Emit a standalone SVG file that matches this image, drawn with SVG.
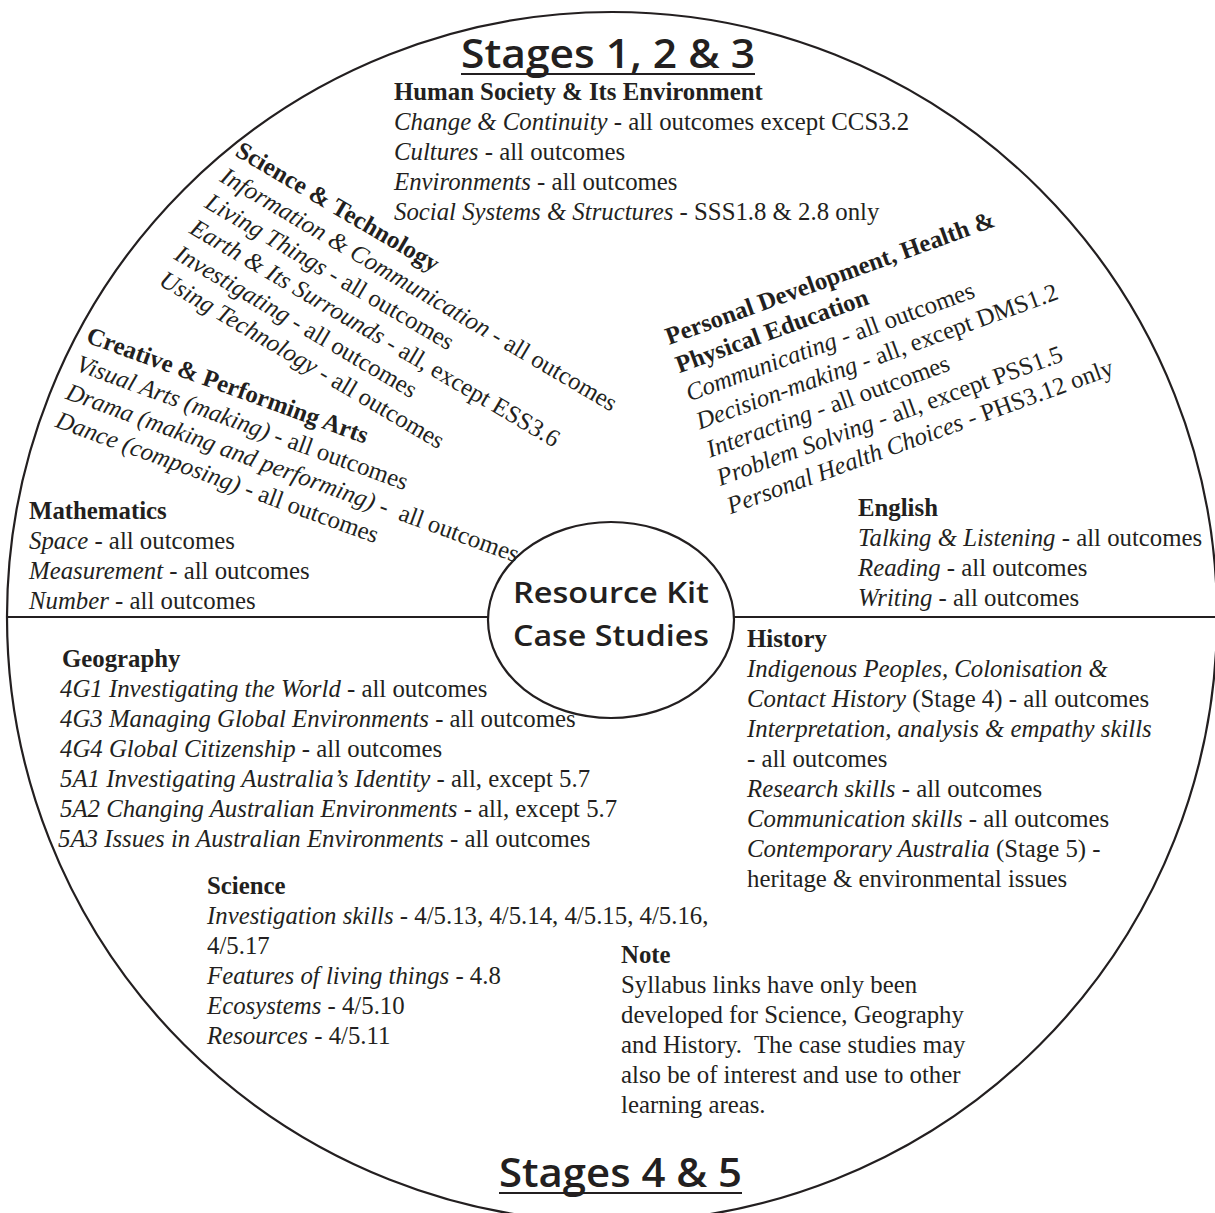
<svg xmlns="http://www.w3.org/2000/svg" width="1215" height="1213" viewBox="0 0 1215 1213">
<style>
text{font-family:"Liberation Serif","Times New Roman",serif;font-size:24.8px;fill:#231f20}
.b{font-weight:bold}
.i{font-style:italic}
.ttl{font-family:"Open Sans","Noto Sans",sans-serif;font-weight:600;font-size:40px}
.ctr{font-family:"Open Sans","Noto Sans",sans-serif;font-weight:600;font-size:29px}
.ln{stroke:#231f20;stroke-width:2.2;fill:none}
</style>
<rect width="1215" height="1213" fill="#fff"/>
<g id="frame">
<circle class="ln" cx="612" cy="617" r="605" stroke-width="2.5"/>
</g>
<g id="connectors">
<line class="ln" x1="7" y1="617" x2="488" y2="617"/>
<line class="ln" x1="734" y1="617" x2="1215" y2="617"/>
</g>
<g id="title-top">
<text class="ttl" x="461" y="68" textLength="294" lengthAdjust="spacingAndGlyphs">Stages 1, 2 &amp; 3</text>
<line class="ln" x1="461" y1="74" x2="755" y2="74"/>
</g>
<g id="hsie">
<text class="b" x="394" y="100">Human Society &amp; Its Environment</text>
<text x="394" y="130"><tspan class="i">Change &amp; Continuity</tspan> - all outcomes except CCS3.2</text>
<text x="394" y="160"><tspan class="i">Cultures</tspan> - all outcomes</text>
<text x="394" y="190"><tspan class="i">Environments</tspan> - all outcomes</text>
<text x="394" y="220"><tspan class="i">Social Systems &amp; Structures</tspan> - SSS1.8 &amp; 2.8 only</text>
</g>
<g id="science-technology" transform="translate(234,155) rotate(30.5)">
<text class="b" x="0" y="0">Science &amp; Technology</text>
<text x="0" y="30"><tspan class="i">Information &amp; Communication</tspan> - all outcomes</text>
<text x="0" y="60"><tspan class="i">Living Things</tspan> - all outcomes</text>
<text x="0" y="90"><tspan class="i">Earth &amp; Its Surrounds</tspan> - all, except ESS3.6</text>
<text x="0" y="120"><tspan class="i">Investigating</tspan> - all outcomes</text>
<text x="0" y="150"><tspan class="i">Using Technology</tspan> - all outcomes</text>
</g>
<g id="creative-arts" transform="translate(85,342) rotate(20)">
<text class="b" x="0" y="0">Creative &amp; Performing Arts</text>
<text x="0" y="30"><tspan class="i">Visual Arts (making)</tspan> - all outcomes</text>
<text x="0" y="60" xml:space="preserve"><tspan class="i">Drama (making and performing)</tspan> -  all outcomes</text>
<text x="0" y="90"><tspan class="i">Dance (composing)</tspan> - all outcomes</text>
</g>
<g id="pdhpe" transform="translate(669,345) rotate(-20)">
<text class="b" x="0" y="0">Personal Development, Health &amp;</text>
<text class="b" x="0" y="30">Physical Education</text>
<text x="0" y="60"><tspan class="i">Communicating</tspan> - all outcomes</text>
<text x="0" y="90"><tspan class="i">Decision-making</tspan> - all, except DMS1.2</text>
<text x="0" y="120"><tspan class="i">Interacting</tspan> - all outcomes</text>
<text x="0" y="150"><tspan class="i">Problem Solving</tspan> - all, except PSS1.5</text>
<text x="0" y="180"><tspan class="i">Personal Health Choices</tspan> - PHS3.12 only</text>
</g>
<g id="mathematics">
<text class="b" x="29" y="519">Mathematics</text>
<text x="29" y="549"><tspan class="i">Space</tspan> - all outcomes</text>
<text x="29" y="579"><tspan class="i">Measurement</tspan> - all outcomes</text>
<text x="29" y="609"><tspan class="i">Number</tspan> - all outcomes</text>
</g>
<g id="english">
<text class="b" x="858" y="516">English</text>
<text x="858" y="546"><tspan class="i">Talking &amp; Listening</tspan> - all outcomes</text>
<text x="858" y="576"><tspan class="i">Reading</tspan> - all outcomes</text>
<text x="858" y="606"><tspan class="i">Writing</tspan> - all outcomes</text>
</g>
<g id="centre">
<ellipse class="ln" cx="611" cy="620" rx="123" ry="98" fill="#fff"/>
<text class="ctr" x="611" y="603" text-anchor="middle" textLength="196" lengthAdjust="spacingAndGlyphs">Resource Kit</text>
<text class="ctr" x="611" y="646" text-anchor="middle" textLength="196" lengthAdjust="spacingAndGlyphs">Case Studies</text>
</g>
<g id="geography">
<text class="b" x="62" y="667">Geography</text>
<text x="60" y="697"><tspan class="i">4G1 Investigating the World</tspan> - all outcomes</text>
<text x="60" y="727"><tspan class="i">4G3 Managing Global Environments</tspan> - all outcomes</text>
<text x="60" y="757"><tspan class="i">4G4 Global Citizenship</tspan> - all outcomes</text>
<text x="60" y="787"><tspan class="i">5A1 Investigating Australia’s Identity</tspan> - all, except 5.7</text>
<text x="60" y="817"><tspan class="i">5A2 Changing Australian Environments</tspan> - all, except 5.7</text>
<text x="58" y="847"><tspan class="i">5A3 Issues in Australian Environments</tspan> - all outcomes</text>
</g>
<g id="history">
<text class="b" x="747" y="647">History</text>
<text x="747" y="677"><tspan class="i">Indigenous Peoples, Colonisation &amp;</tspan></text>
<text x="747" y="707"><tspan class="i">Contact History</tspan> (Stage 4) - all outcomes</text>
<text x="747" y="737"><tspan class="i">Interpretation, analysis &amp; empathy skills</tspan></text>
<text x="747" y="767">- all outcomes</text>
<text x="747" y="797"><tspan class="i">Research skills</tspan> - all outcomes</text>
<text x="747" y="827"><tspan class="i">Communication skills</tspan> - all outcomes</text>
<text x="747" y="857"><tspan class="i">Contemporary Australia</tspan> (Stage 5) -</text>
<text x="747" y="887">heritage &amp; environmental issues</text>
</g>
<g id="science">
<text class="b" x="207" y="894">Science</text>
<text x="207" y="924"><tspan class="i">Investigation skills</tspan> - 4/5.13, 4/5.14, 4/5.15, 4/5.16,</text>
<text x="207" y="954">4/5.17</text>
<text x="207" y="984"><tspan class="i">Features of living things</tspan> - 4.8</text>
<text x="207" y="1014"><tspan class="i">Ecosystems</tspan> - 4/5.10</text>
<text x="207" y="1044"><tspan class="i">Resources</tspan> - 4/5.11</text>
</g>
<g id="note">
<text class="b" x="621" y="963">Note</text>
<text x="621" y="993">Syllabus links have only been</text>
<text x="621" y="1023">developed for Science, Geography</text>
<text x="621" y="1053">and History.&#160; The case studies may</text>
<text x="621" y="1083">also be of interest and use to other</text>
<text x="621" y="1113">learning areas.</text>
</g>
<g id="title-bottom">
<text class="ttl" x="499" y="1187" textLength="243" lengthAdjust="spacingAndGlyphs">Stages 4 &amp; 5</text>
<line class="ln" x1="499" y1="1193" x2="742" y2="1193"/>
</g>
</svg>
